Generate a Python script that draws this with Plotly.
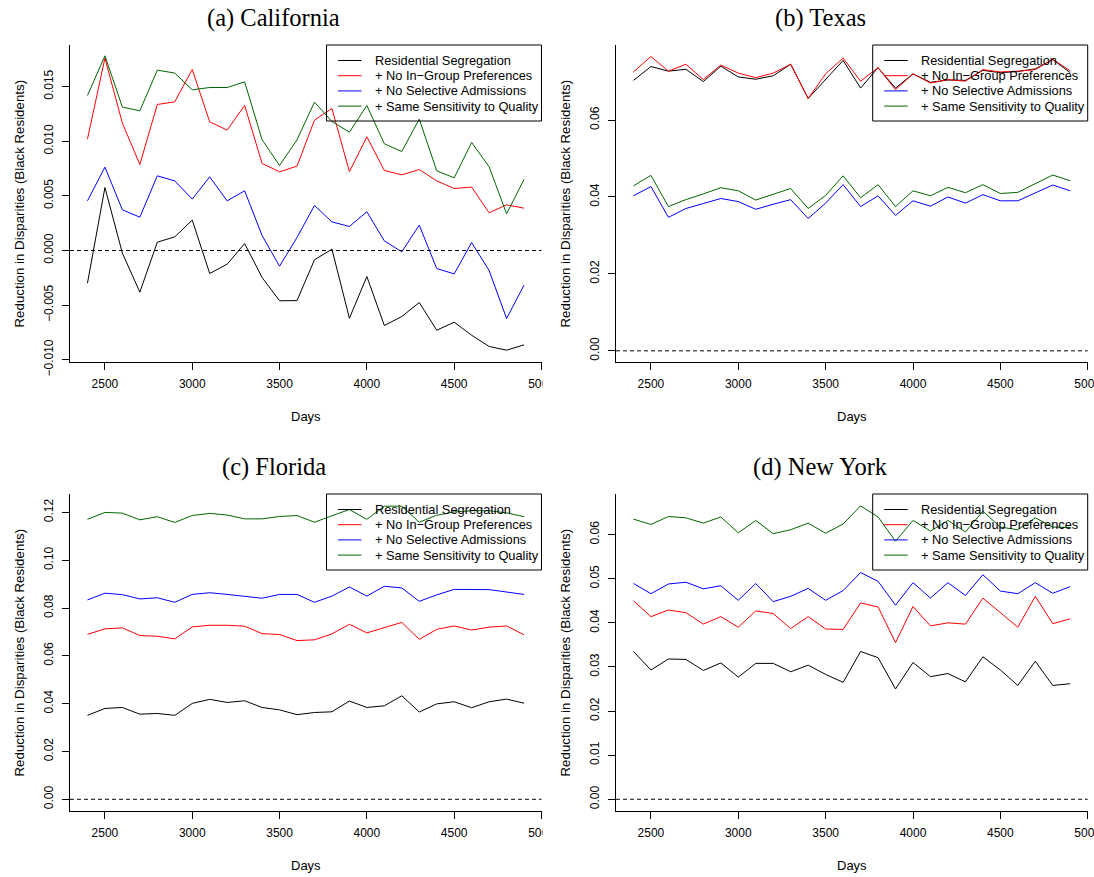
import plotly.graph_objects as go

# Simulation days (x axis)
days = [2400, 2500, 2600, 2700, 2800, 2900, 3000, 3100, 3200, 3300, 3400, 3500, 3600,
        3700, 3800, 3900, 4000, 4100, 4200, 4300, 4400, 4500, 4600, 4700, 4800, 4900]

series_names = ["Residential Segregation", "+ No In\u2212Group Preferences",
                "+ No Selective Admissions", "+ Same Sensitivity to Quality"]
series_colors = ["#000000", "#FF0000", "#0000FF", "#006400"]

# (a) California
seg_ca = [-0.00299, 0.00576, -0.00024, -0.00381, 0.00076, 0.00125, 0.00278, -0.00210, -0.00125,
          0.00064, -0.00247, -0.00460, -0.00458, -0.00085, 0.00012, -0.00620, -0.00238, -0.00686,
          -0.00604, -0.00476, -0.00729, -0.00656, -0.00775, -0.00878, -0.00912, -0.00863]
ingroup_ca = [0.01019, 0.01760, 0.01165, 0.00787, 0.01336, 0.01360, 0.01656, 0.01177, 0.01101,
              0.01327, 0.00796, 0.00720, 0.00772, 0.01193, 0.01299, 0.00720, 0.01040, 0.00732,
              0.00692, 0.00741, 0.00637, 0.00567, 0.00580, 0.00345, 0.00418, 0.00387]
select_ca = [0.00454, 0.00763, 0.00372, 0.00305, 0.00683, 0.00637, 0.00470, 0.00674, 0.00454,
             0.00546, 0.00137, -0.00143, 0.00119, 0.00412, 0.00262, 0.00220, 0.00354, 0.00088,
             -0.00012, 0.00232, -0.00165, -0.00214, 0.00073, -0.00183, -0.00622, -0.00317]
quality_ca = [0.01418, 0.01781, 0.01312, 0.01278, 0.01650, 0.01623, 0.01470, 0.01491, 0.01491,
              0.01543, 0.01013, 0.00778, 0.01013, 0.01357, 0.01180, 0.01083, 0.01327, 0.00976,
              0.00906, 0.01202, 0.00729, 0.00665, 0.00988, 0.00766, 0.00336, 0.00650]

# (b) Texas
seg_tx = [0.0703, 0.0739, 0.0727, 0.0732, 0.0700, 0.0740, 0.0712, 0.0706, 0.0715, 0.0745, 0.0656,
          0.0705, 0.0755, 0.0683, 0.0736, 0.0683, 0.0720, 0.0698, 0.0704, 0.0703, 0.0729, 0.0723,
          0.0726, 0.0733, 0.0757, 0.0723]
ingroup_tx = [0.0725, 0.0765, 0.0727, 0.0745, 0.0705, 0.0743, 0.0722, 0.0710, 0.0722, 0.0745, 0.0656,
              0.0720, 0.0761, 0.0701, 0.0736, 0.0679, 0.0720, 0.0696, 0.0705, 0.0701, 0.0731, 0.0725,
              0.0727, 0.0731, 0.0758, 0.0728]
select_tx = [0.0403, 0.0427, 0.0347, 0.0370, 0.0383, 0.0396, 0.0388, 0.0368, 0.0381, 0.0393, 0.0344,
             0.0384, 0.0432, 0.0375, 0.0403, 0.0352, 0.0390, 0.0376, 0.0400, 0.0384, 0.0406, 0.0390,
             0.0390, 0.0410, 0.0431, 0.0416]
quality_tx = [0.0429, 0.0456, 0.0375, 0.0393, 0.0408, 0.0424, 0.0416, 0.0392, 0.0407, 0.0422, 0.0370,
              0.0404, 0.0455, 0.0398, 0.0432, 0.0375, 0.0416, 0.0403, 0.0425, 0.0411, 0.0432, 0.0409,
              0.0412, 0.0435, 0.0457, 0.0442]

# (c) Florida
seg_fl = [0.0351, 0.0380, 0.0384, 0.0356, 0.0359, 0.0351, 0.0401, 0.0418, 0.0405, 0.0412, 0.0384,
          0.0374, 0.0354, 0.0363, 0.0366, 0.0411, 0.0384, 0.0391, 0.0433, 0.0365, 0.0399, 0.0408,
          0.0383, 0.0408, 0.0419, 0.0402]
ingroup_fl = [0.0690, 0.0713, 0.0717, 0.0685, 0.0682, 0.0671, 0.0721, 0.0728, 0.0728, 0.0724, 0.0693,
              0.0689, 0.0664, 0.0667, 0.0692, 0.0732, 0.0696, 0.0717, 0.0740, 0.0669, 0.0711, 0.0725,
              0.0708, 0.0720, 0.0725, 0.0688]
select_fl = [0.0834, 0.0862, 0.0856, 0.0838, 0.0843, 0.0824, 0.0857, 0.0864, 0.0857, 0.0848, 0.0841,
             0.0857, 0.0857, 0.0824, 0.0850, 0.0888, 0.0850, 0.0891, 0.0884, 0.0828, 0.0855, 0.0878,
             0.0878, 0.0877, 0.0867, 0.0857]
quality_fl = [0.1171, 0.1200, 0.1197, 0.1169, 0.1182, 0.1158, 0.1187, 0.1196, 0.1189, 0.1173, 0.1173,
              0.1183, 0.1187, 0.1159, 0.1186, 0.1212, 0.1171, 0.1226, 0.1226, 0.1159, 0.1188, 0.1202,
              0.1207, 0.1207, 0.1198, 0.1182]

# (d) New York
seg_ny = [0.0335, 0.0293, 0.0318, 0.0317, 0.0292, 0.0309, 0.0277, 0.0308, 0.0308, 0.0289, 0.0304,
          0.0283, 0.0265, 0.0335, 0.0321, 0.0250, 0.0310, 0.0278, 0.0285, 0.0266, 0.0323, 0.0293,
          0.0258, 0.0313, 0.0258, 0.0262]
ingroup_ny = [0.0450, 0.0414, 0.0429, 0.0423, 0.0397, 0.0414, 0.0390, 0.0427, 0.0421, 0.0387, 0.0414,
              0.0386, 0.0385, 0.0445, 0.0436, 0.0355, 0.0437, 0.0393, 0.0400, 0.0397, 0.0456, 0.0424,
              0.0390, 0.0460, 0.0398, 0.0409]
select_ny = [0.0489, 0.0466, 0.0488, 0.0492, 0.0477, 0.0484, 0.0451, 0.0489, 0.0448, 0.0460, 0.0478,
             0.0451, 0.0473, 0.0514, 0.0494, 0.0440, 0.0491, 0.0456, 0.0491, 0.0462, 0.0509, 0.0472,
             0.0466, 0.0491, 0.0467, 0.0482]
quality_ny = [0.0635, 0.0623, 0.0641, 0.0638, 0.0626, 0.0640, 0.0604, 0.0632, 0.0602, 0.0611, 0.0626,
              0.0603, 0.0624, 0.0665, 0.0640, 0.0585, 0.0632, 0.0608, 0.0632, 0.0606, 0.0653, 0.0617,
              0.0611, 0.0638, 0.0617, 0.0616]

panel_titles = ["(a) California", "(b) Texas", "(c) Florida", "(d) New York"]
x_ticks = [2500, 3000, 3500, 4000, 4500, 5000]
y_ticks_ca = [-0.010, -0.005, 0.000, 0.005, 0.010, 0.015]
y_ticks_tx = [0.00, 0.02, 0.04, 0.06]
y_ticks_fl = [0.00, 0.02, 0.04, 0.06, 0.08, 0.10, 0.12]
y_ticks_ny = [0.00, 0.01, 0.02, 0.03, 0.04, 0.05, 0.06]

panels = [
    dict(data=[seg_ca, ingroup_ca, select_ca, quality_ca], yticks=y_ticks_ca, fmt=".3f",
         yrange=[-0.0102, 0.0188]),
    dict(data=[seg_tx, ingroup_tx, select_tx, quality_tx], yticks=y_ticks_tx, fmt=".2f",
         yrange=[-0.0029, 0.0795]),
    dict(data=[seg_fl, ingroup_fl, select_fl, quality_fl], yticks=y_ticks_fl, fmt=".2f",
         yrange=[-0.0049, 0.1277]),
    dict(data=[seg_ny, ingroup_ny, select_ny, quality_ny], yticks=y_ticks_ny, fmt=".2f",
         yrange=[-0.00266, 0.0692]),
]

W, H = 1094, 877
# plot-region boxes in pixels: (left, right, top, bottom)
boxes = [(70, 541.5, 45, 362), (616, 1087.7, 45, 362),
         (70, 541.5, 494, 811), (616, 1087.7, 494, 811)]
title_pos = [(0.25, 18), (0.75, 18), (0.25, 467), (0.75, 467)]

# legend box geometry (px): width, height, row pitch, first row offset
LEG_W, LEG_H, ROW, ROW0 = 215, 76, 15.2, 15.5
SAMPLE_X0, SAMPLE_X1, TEXT_X = 11.5, 35, 46

SANS = "Liberation Sans, Arial, Helvetica, sans-serif"
SERIF = "Liberation Serif, Times New Roman, serif"


def px(x):
    return x / W


def py(y):
    return 1 - y / H


fig = go.Figure()
layout = dict(width=W, height=H, autosize=False,
              margin=dict(l=0, r=0, t=0, b=0, autoexpand=False),
              paper_bgcolor="white", plot_bgcolor="white", showlegend=False)
annotations = []
shapes = []

for i, (p, box) in enumerate(zip(panels, boxes)):
    n = "" if i == 0 else str(i + 1)
    xa, ya = "x" + n, "y" + n
    left, right, top, bottom = box
    for name, color, vals in zip(series_names, series_colors, p["data"]):
        fig.add_trace(go.Scatter(x=days, y=vals, mode="lines", name=name,
                                 line=dict(color=color, width=1),
                                 xaxis=xa, yaxis=ya, hoverinfo="skip"))
    axis_common = dict(showline=True, linecolor="black", linewidth=1, ticks="outside",
                       ticklen=7, tickwidth=1, tickcolor="black", showgrid=False,
                       zeroline=False, automargin=False, ticklabeloverflow="allow",
                       tickfont=dict(family=SANS, size=12, color="black"))
    layout["xaxis" + n] = dict(domain=[px(left), px(right)], range=[2300, 5000],
                               tickvals=x_ticks, ticktext=[str(t) for t in x_ticks],
                               anchor=ya, ticklabelstandoff=4, **axis_common)
    layout["yaxis" + n] = dict(domain=[py(bottom), py(top)], range=p["yrange"],
                               tickvals=p["yticks"], tickformat=p["fmt"], tickangle=-90,
                               anchor=xa, ticklabelstandoff=4, **axis_common)

    # dashed reference line at zero
    shapes.append(dict(type="line", xref=xa + " domain", x0=0, x1=1, yref=ya, y0=0, y1=0,
                       line=dict(color="black", width=1, dash="4px,3px"), layer="above"))

    # legend in the top-right corner of the plot region
    lx0, ly0 = right - LEG_W, top
    shapes.append(dict(type="rect", xref="paper", yref="paper",
                       x0=px(lx0), x1=px(right), y0=py(ly0 + LEG_H), y1=py(ly0),
                       line=dict(color="black", width=1), fillcolor="rgba(0,0,0,0)",
                       layer="above"))
    for k, (name, color) in enumerate(zip(series_names, series_colors)):
        ry = ly0 + ROW0 + ROW * k
        shapes.append(dict(type="line", xref="paper", yref="paper",
                           x0=px(lx0 + SAMPLE_X0), x1=px(lx0 + SAMPLE_X1), y0=py(ry), y1=py(ry),
                           line=dict(color=color, width=1), layer="above"))
        annotations.append(dict(text=name, xref="paper", yref="paper", x=px(lx0 + TEXT_X),
                                y=py(ry), xanchor="left", yanchor="middle", showarrow=False,
                                font=dict(family=SANS, size=12.8, color="black")))

    # axis titles
    annotations.append(dict(text="Days", xref=xa + " domain", x=0.5, yref=ya + " domain",
                            y=-(416 - 362) / (bottom - top), xanchor="center", yanchor="middle",
                            showarrow=False, font=dict(family=SANS, size=13, color="black")))
    annotations.append(dict(text="Reduction in Disparities (Black Residents)",
                            xref=xa + " domain", x=-51 / (right - left), yref=ya + " domain",
                            y=0.5, xanchor="center", yanchor="middle", textangle=-90,
                            showarrow=False, font=dict(family=SANS, size=13.3, color="black")))
    tx, ty = title_pos[i]
    annotations.append(dict(text=panel_titles[i], xref="paper", x=tx, yref="paper",
                            y=py(ty), xanchor="center", yanchor="middle", showarrow=False,
                            font=dict(family=SERIF, size=24.5, color="black")))

# each left panel is clipped at its own frame, cutting the last tick label
for top_px in (372, 821):
    shapes.append(dict(type="rect", xref="paper", yref="paper", x0=px(542.5), x1=px(565),
                       y0=py(top_px + 26), y1=py(top_px),
                       fillcolor="white", line=dict(width=0), layer="above"))

layout["annotations"] = annotations
layout["shapes"] = shapes
fig.update_layout(**layout)
fig.write_html("out.html")
